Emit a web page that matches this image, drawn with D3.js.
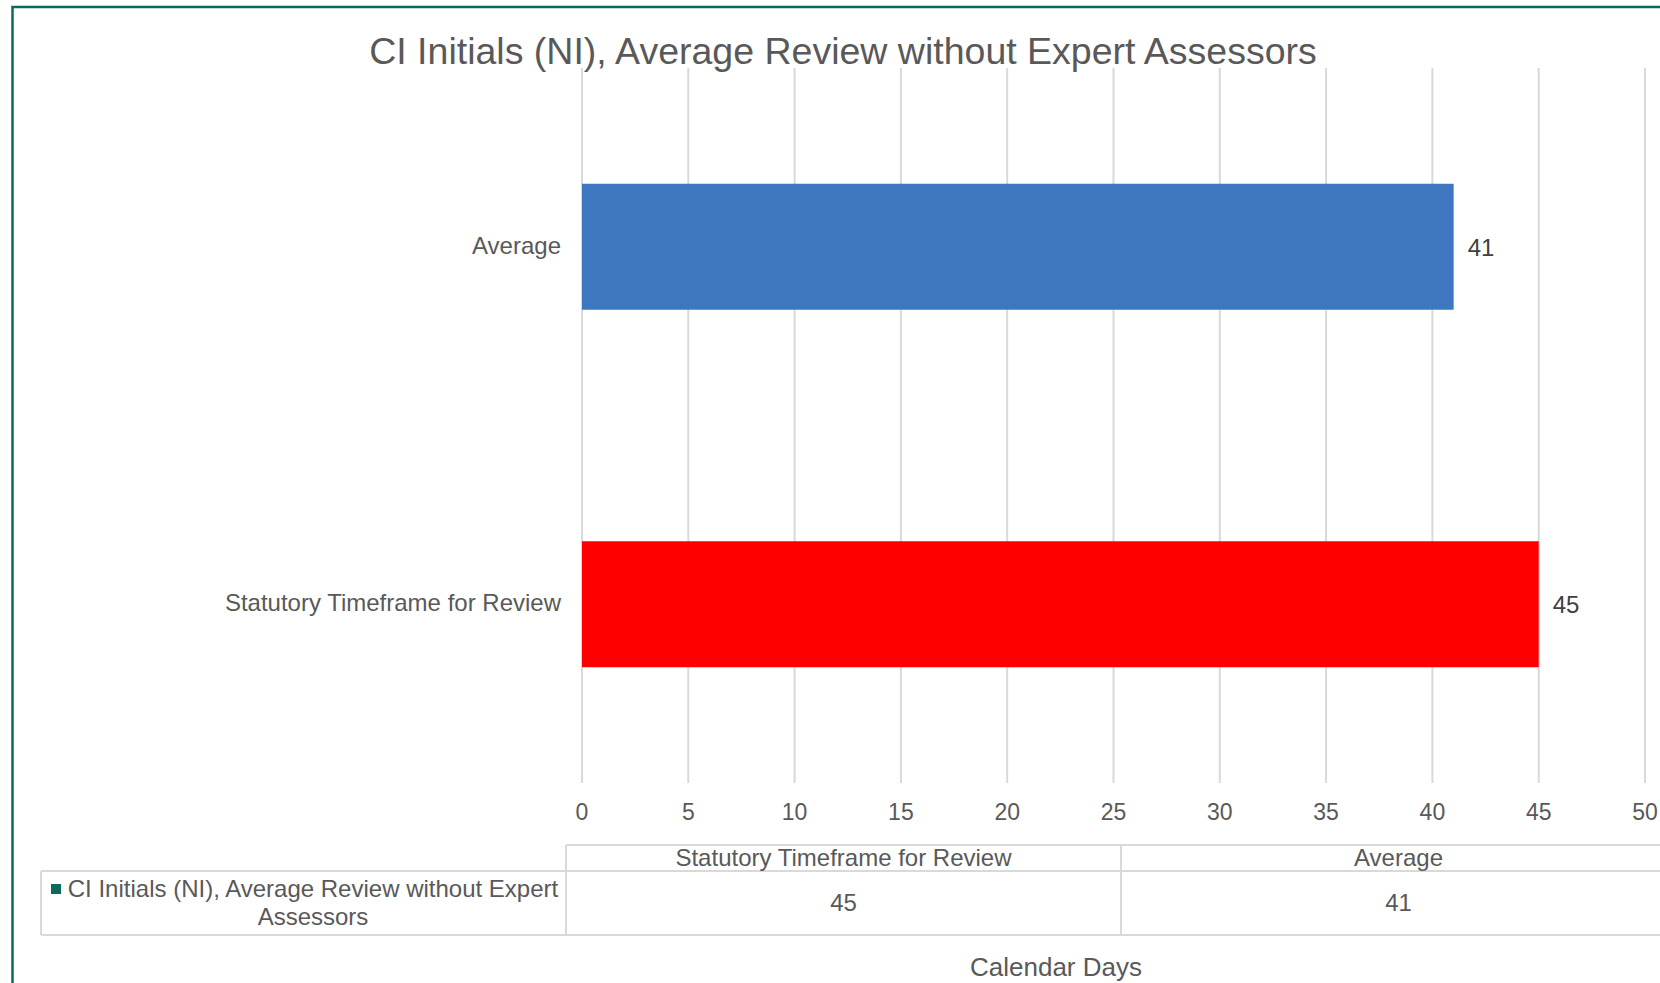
<!DOCTYPE html>
<html>
  <head>
    <script src="https://d3js.org/d3.v7.min.js"></script>
    <style>
      body {
        margin: 0;
        background: #fff;
        font-family: "Liberation Sans", Arial, sans-serif;
      }
    </style>
    <title>CI Initials (NI)</title>
  </head>
  <body>
    <svg id="chart" width="1660" height="983"></svg>
    <script>
      // data
      var categories = ["Statutory Timeframe for Review", "Average"];
      var values = [45, 41];
      var xTicks = [0, 5, 10, 15, 20, 25, 30, 35, 40, 45, 50];
      var seriesName = "CI Initials (NI), Average Review without Expert Assessors";
      var title = "CI Initials (NI), Average Review without Expert Assessors";
      var axisTitle = "Calendar Days";

      var barColors = { "Statutory Timeframe for Review": "#ff0000", Average: "#3e76bf" };
      var textColor = "#595959";
      var gridColor = "#d9d9d9";

      var rows = categories.map(function (c, i) {
        return { cat: c, val: values[i] };
      });

      var svg = d3.select("#chart");

      // chart border (runs off the right and bottom edges)
      svg
        .append("rect")
        .attr("x", 12.5)
        .attr("y", 7)
        .attr("width", 1700)
        .attr("height", 1100)
        .attr("fill", "#fff")
        .attr("stroke", "#0b6b57")
        .attr("stroke-width", 2.5);

      var x = d3.scaleLinear().domain([0, 50]).range([582, 1645]);

      // Average is on top, Statutory below
      var y = d3
        .scaleBand()
        .domain(["Average", "Statutory Timeframe for Review"])
        .range([68, 783])
        .paddingInner(0.6476)
        .paddingOuter(0.3238);

      // gridlines
      svg
        .append("g")
        .selectAll("line")
        .data(xTicks)
        .enter()
        .append("line")
        .attr("x1", (d) => x(d))
        .attr("x2", (d) => x(d))
        .attr("y1", 68)
        .attr("y2", 783)
        .attr("stroke", gridColor)
        .attr("stroke-width", 2);

      // tick labels
      svg
        .append("g")
        .selectAll("text")
        .data(xTicks)
        .enter()
        .append("text")
        .attr("x", (d) => x(d))
        .attr("y", 820)
        .attr("text-anchor", "middle")
        .style("font-size", "23px")
        .style("fill", textColor)
        .text((d) => d);

      // bars
      svg
        .append("g")
        .selectAll("rect")
        .data(rows)
        .enter()
        .append("rect")
        .attr("x", x(0))
        .attr("y", (d) => y(d.cat))
        .attr("width", (d) => x(d.val) - x(0))
        .attr("height", y.bandwidth())
        .attr("fill", (d) => barColors[d.cat]);

      // value labels
      svg
        .append("g")
        .selectAll("text")
        .data(rows)
        .enter()
        .append("text")
        .attr("x", (d) => x(d.val) + 14)
        .attr("y", (d) => y(d.cat) + y.bandwidth() / 2 + 9)
        .style("font-size", "24px")
        .style("fill", "#404040")
        .text((d) => d.val);

      // category labels
      svg
        .append("g")
        .selectAll("text")
        .data(rows)
        .enter()
        .append("text")
        .attr("x", 561)
        .attr("y", (d) => y(d.cat) + y.bandwidth() / 2 + 7)
        .attr("text-anchor", "end")
        .style("font-size", "24px")
        .style("fill", textColor)
        .text((d) => d.cat);

      // title
      svg
        .append("text")
        .attr("x", 843)
        .attr("y", 64)
        .attr("text-anchor", "middle")
        .style("font-size", "37.5px")
        .style("fill", textColor)
        .text(title);

      // data table
      var col = d3.scaleBand().domain(categories).range([566, 1676]);
      var table = svg.append("g");
      var lineStyle = function (sel) {
        sel.attr("stroke", gridColor).attr("stroke-width", 2);
      };

      table.append("line").attr("x1", 566).attr("x2", 1700).attr("y1", 845).attr("y2", 845).call(lineStyle);
      table.append("line").attr("x1", 41).attr("x2", 1700).attr("y1", 871).attr("y2", 871).call(lineStyle);
      table.append("line").attr("x1", 41).attr("x2", 1700).attr("y1", 935).attr("y2", 935).call(lineStyle);
      table.append("line").attr("x1", 41).attr("x2", 41).attr("y1", 871).attr("y2", 935).call(lineStyle);
      table
        .selectAll("line.col")
        .data(categories)
        .enter()
        .append("line")
        .attr("class", "col")
        .attr("x1", (d) => col(d))
        .attr("x2", (d) => col(d))
        .attr("y1", 845)
        .attr("y2", 935)
        .call(lineStyle);

      table
        .selectAll("text.head")
        .data(categories)
        .enter()
        .append("text")
        .attr("class", "head")
        .attr("x", (d) => col(d) + col.bandwidth() / 2)
        .attr("y", 866)
        .attr("text-anchor", "middle")
        .style("font-size", "24px")
        .style("fill", textColor)
        .text((d) => d);

      table
        .selectAll("text.val")
        .data(rows)
        .enter()
        .append("text")
        .attr("class", "val")
        .attr("x", (d) => col(d.cat) + col.bandwidth() / 2)
        .attr("y", 911)
        .attr("text-anchor", "middle")
        .style("font-size", "24px")
        .style("fill", textColor)
        .text((d) => d.val);

      // legend cell
      table
        .append("rect")
        .attr("x", 51)
        .attr("y", 884)
        .attr("width", 10)
        .attr("height", 10)
        .attr("fill", "#0b6b57");

      var words = seriesName.split(" ");
      var legendLines = [words.slice(0, -1).join(" "), words[words.length - 1]];
      table
        .selectAll("text.leg")
        .data(legendLines)
        .enter()
        .append("text")
        .attr("class", "leg")
        .attr("x", 313)
        .attr("y", (d, i) => 897 + i * 28)
        .attr("text-anchor", "middle")
        .style("font-size", "24px")
        .style("fill", textColor)
        .text((d) => d);

      // axis title
      svg
        .append("text")
        .attr("x", 1056)
        .attr("y", 976)
        .attr("text-anchor", "middle")
        .style("font-size", "26px")
        .style("fill", textColor)
        .text(axisTitle);
    </script>
  </body>
</html>
